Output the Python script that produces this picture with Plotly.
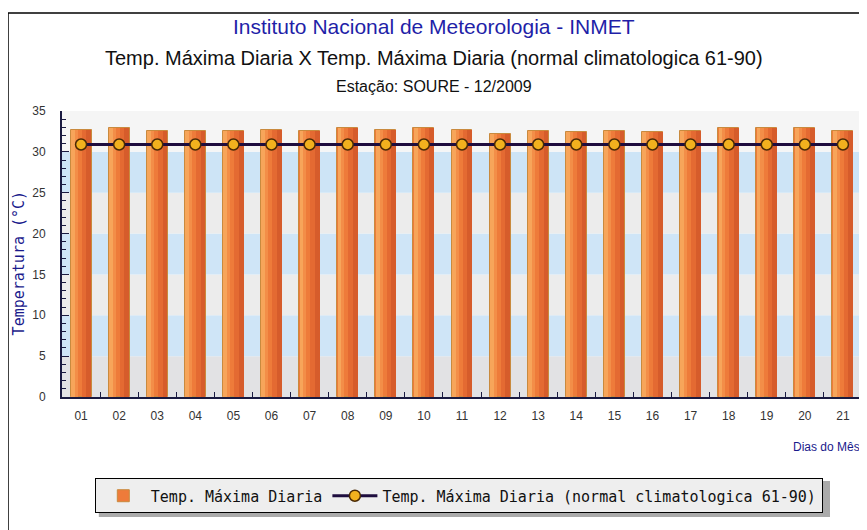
import plotly.graph_objects as go

# dias do mes
dias = ["01", "02", "03", "04", "05", "06", "07", "08", "09", "10", "11",
        "12", "13", "14", "15", "16", "17", "18", "19", "20", "21"]

# temperatura maxima diaria (dez/2009)
tmax = [32.7, 32.9, 32.5, 32.5, 32.5, 32.7, 32.5, 32.9, 32.7, 32.9, 32.7,
        32.2, 32.5, 32.4, 32.5, 32.4, 32.5, 32.9, 32.9, 32.9, 32.5]

# normal climatologica 61-90
normal = [30.9] * len(dias)

y_ticks = [0, 5, 10, 15, 20, 25, 30, 35]

fig = go.Figure()

# barras com "degrade" simples: base + faixas claras/escuras
fig.add_trace(go.Bar(
    x=dias, y=tmax, name="Temp. Máxima Diaria",
    width=0.55,
    marker=dict(color="#EE7B3A", line=dict(color="#C98A3E", width=1)),
))
shades = [  # (offset, width, cor)
    (-0.265, 0.10, "#F7A55A"),
    (-0.165, 0.08, "#F38E48"),
    (0.02, 0.12, "#E46A32"),
    (0.14, 0.125, "#D65C2B"),
]
for off, w, c in shades:
    fig.add_trace(go.Bar(
        x=dias, y=tmax, width=w, offset=off, showlegend=False,
        marker=dict(color=c, line=dict(width=0)), hoverinfo="skip",
    ))

fig.add_trace(go.Scatter(
    x=dias, y=normal, name="Temp. Máxima Diaria (normal climatologica 61-90)",
    mode="lines+markers",
    line=dict(color="#1E0D3E", width=3),
    marker=dict(symbol="circle", size=11, color="#F2B11E",
                line=dict(color="#4A2A05", width=1.5)),
))

# faixas do fundo
band_colors = ["#E2E2E4", "#CFE5F7", "#ECECEC", "#CFE5F7", "#ECECEC", "#CDE4F6", "#F5F5F5"]
for i, c in enumerate(band_colors):
    fig.add_shape(type="rect", xref="paper", yref="y", x0=0, x1=1,
                  y0=y_ticks[i], y1=y_ticks[i + 1], fillcolor=c,
                  line=dict(width=0), layer="below")

# moldura (esquerda e topo)
fig.add_shape(type="line", xref="paper", yref="paper", x0=-0.0675, x1=-0.0675,
              y0=1.343, y1=-0.5, line=dict(color="black", width=1.5))
fig.add_shape(type="line", xref="paper", yref="paper", x0=-0.0675, x1=1.01,
              y0=1.343, y1=1.343, line=dict(color="black", width=1.5))

# sombra da legenda
fig.add_shape(type="rect", xref="paper", yref="paper", x0=0.046, x1=0.96,
              y0=-0.4196, y1=-0.2937, fillcolor="#AAAAAA", line=dict(width=0))

titles = [
    ("Instituto Nacional de Meteorologia - INMET", 1.294, 21, "#1F1FA8"),
    ("Temp. Máxima Diaria X Temp. Máxima Diaria (normal climatologica 61-90)", 1.185, 20, "#111111"),
    ("Estação: SOURE - 12/2009", 1.084, 16, "#111111"),
]
for txt, yy, sz, col in titles:
    fig.add_annotation(text=txt, xref="paper", yref="paper", x=0.465, y=yy,
                       showarrow=False, xanchor="center", yanchor="middle",
                       font=dict(family="Liberation Sans, Arial", size=sz, color=col))

fig.add_annotation(text="Temperatura (°C)", xref="paper", yref="paper",
                   x=-0.054, y=0.47, textangle=-90, showarrow=False,
                   xanchor="center", yanchor="middle",
                   font=dict(family="DejaVu Sans Mono, monospace", size=15, color="#1A1A8C"))
fig.add_annotation(text="Dias do Mês", xref="paper", yref="paper",
                   x=1.0, y=-0.175, showarrow=False,
                   xanchor="right", yanchor="middle",
                   font=dict(family="Liberation Sans, Arial", size=12, color="#1A1A8C"))

# a pagina tem margem de 8px no body: figura reduzida para caber na janela
fig.update_layout(
    width=859, height=522,
    margin=dict(l=54, r=5, t=103, b=133),
    paper_bgcolor="white", plot_bgcolor="white",
    barmode="overlay", bargap=0,
    showlegend=True,
    legend=dict(orientation="h", x=0.496, y=-0.346, xanchor="center", yanchor="middle",
                bgcolor="#EEEEEE", bordercolor="black", borderwidth=1,
                font=dict(family="DejaVu Sans Mono, monospace",
                          size=15, color="#111111"),
                itemwidth=45),
    xaxis=dict(type="category", range=[-0.5, 20.5], showgrid=False,
               showline=True, linecolor="#1A1A40", linewidth=2,
               ticks="inside", tickson="boundaries", ticklen=5, tickcolor="#1A1A40",
               ticklabelstandoff=7,
               tickfont=dict(family="Liberation Sans, Arial", size=12, color="#333333")),
    yaxis=dict(range=[0, 35], tickvals=y_ticks, showgrid=False, zeroline=False,
               showline=True, linecolor="#1A1A40", linewidth=2,
               ticks="inside", ticklen=7, tickcolor="#1A1A40",
               ticklabelstandoff=12,
               minor=dict(dtick=1, ticks="inside", ticklen=4, tickcolor="#1A1A40"),
               tickfont=dict(family="Liberation Sans, Arial", size=12, color="#333333")),
)

fig.write_html("out.html")
